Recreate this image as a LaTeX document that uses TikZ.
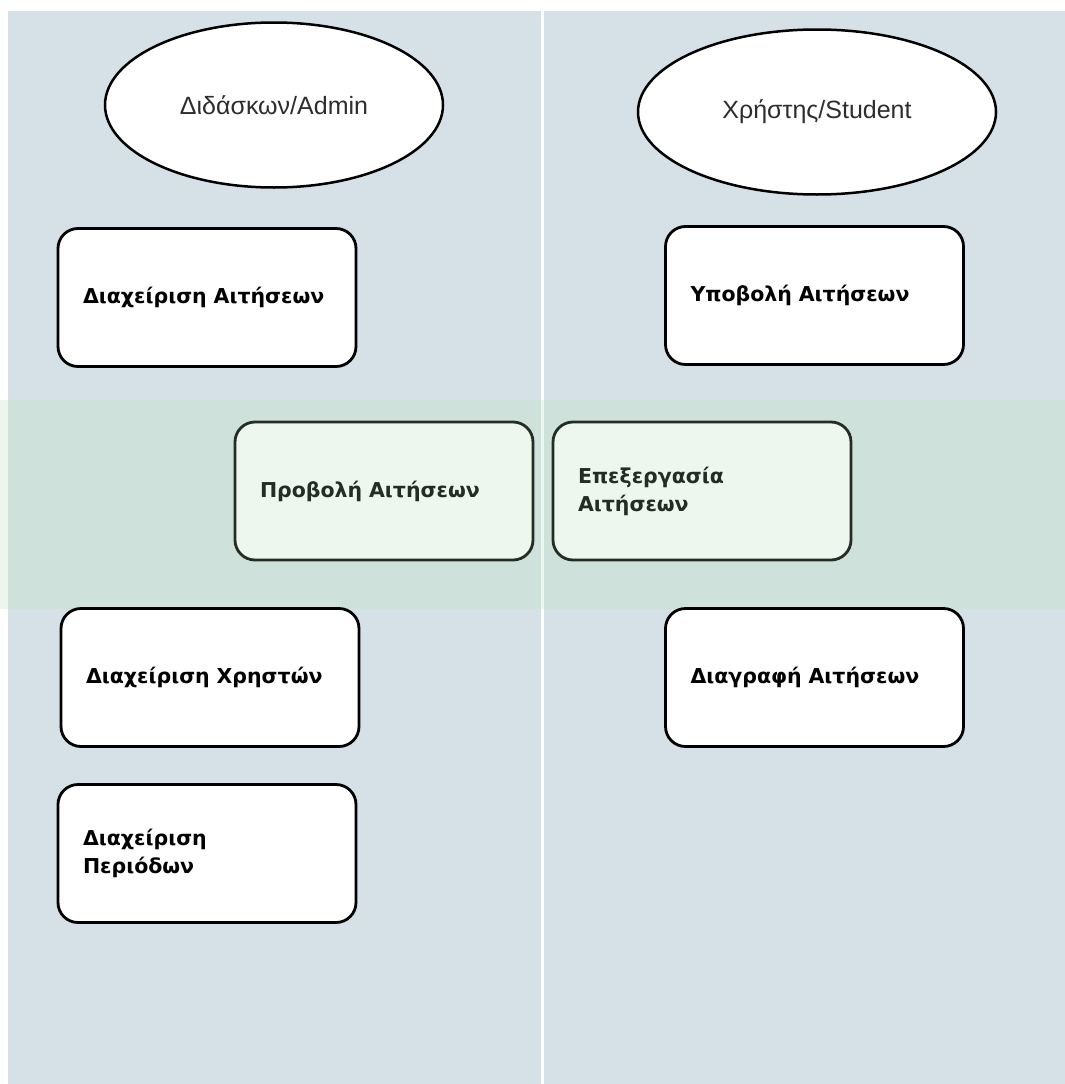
\documentclass[tikz,border=0pt]{standalone}
\usepackage{fontspec}
\setmainfont{Liberation Sans}
\newfontfamily\boxfont{DejaVu Sans}
\usetikzlibrary{shapes.geometric, positioning}
\definecolor{lanegray}{RGB}{213,225,231}
\definecolor{bandgreen}{RGB}{192,225,192}
\definecolor{sharedfill}{RGB}{237,247,237}
\definecolor{sharedline}{RGB}{35,45,35}
\definecolor{actortext}{RGB}{45,45,45}

\begin{document}
\begin{tikzpicture}[
  x=1pt, y=-1pt,
  actor/.style = {ellipse, draw=black, fill=white, line width=2.5pt,
                  minimum width=338pt, minimum height=165pt,
                  font=\fontsize{25}{28}\selectfont, text=actortext},
  usecase/.style = {rectangle, rounded corners=20pt, draw=black, fill=white,
                    line width=2.8pt, minimum width=298pt, minimum height=138pt,
                    text width=248pt, align=left, inner sep=0pt,
                    font=\boxfont\bfseries\fontsize{20.5}{28}\selectfont},
  shared/.style = {usecase, fill=sharedfill, draw=sharedline, text=sharedline}
]

% lanes
\fill[white] (0,0) rectangle (1065,1084);
\fill[lanegray] (8,11) rectangle (541,1084);
\fill[lanegray] (544,11) rectangle (1065,1084);
\fill[bandgreen, opacity=0.29] (0,400) rectangle (1065,609);

% actors
\node[actor] (admin)   at (274,105) {Διδάσκων/Admin};
\node[actor, minimum width=358pt] (student) at (817,112) {Χρήστης/Student};

% admin side
\node[usecase] (manageapps)  at (207,297.5) {Διαχείριση Αιτήσεων};
\node[usecase] (manageusers) at (210,677.5) {Διαχείριση Χρηστών};
\node[usecase] (manageterms) at (207,853.5) {Διαχείριση\\Περιόδων};

% student side
\node[usecase] (submitapps) at (814.5,295.5) {Υποβολή Αιτήσεων};
\node[usecase] (deleteapps) at (814.5,677.5) {Διαγραφή Αιτήσεων};

% shared band
\node[shared] (viewapps) at (384,491) {Προβολή Αιτήσεων};
\node[shared] (editapps) at (702,491) {Επεξεργασία\\Αιτήσεων};

\end{tikzpicture}
\end{document}
